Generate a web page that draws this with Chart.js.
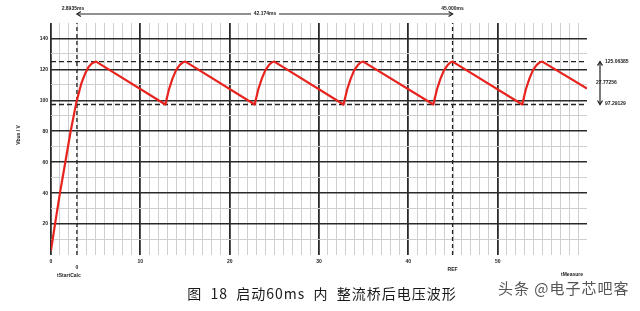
<!DOCTYPE html>
<html>
<head>
  <meta charset="utf-8">
  <script src="https://cdn.jsdelivr.net/npm/chart.js"></script>
  <style>
    html, body { margin: 0; padding: 0; background: #fff; }
    #box { width: 640px; height: 311px; position: relative; }
  </style>
</head>
<body>
  <div id="box"><canvas id="voltageChart"></canvas></div>

  <script>
    // waveform (time in ms, voltage in V)
    const timeData = [0, 0.45, 1.0, 1.6, 2.2, 2.85, 3.4, 3.8, 4.2, 4.6, 5.05,
      12.8, 13.2, 13.6, 14.0, 14.4, 14.75, 15.05,
      22.8, 23.2, 23.6, 24.0, 24.4, 24.7, 25.0,
      32.75, 33.15, 33.55, 33.95, 34.35, 34.65, 34.95,
      42.8, 43.2, 43.6, 44.0, 44.4, 44.7, 44.95,
      52.75, 53.15, 53.55, 53.95, 54.35, 54.7, 55.0,
      60];
    const voltageData = [3, 20, 40, 60, 80, 99, 111, 117, 121.5, 124, 125.06,
      97.29, 107, 114, 119.5, 122.8, 124.5, 125.06,
      97.29, 107, 114, 119.5, 122.8, 124.5, 125.06,
      97.29, 107, 114, 119.5, 122.8, 124.5, 125.06,
      97.29, 107, 114, 119.5, 122.8, 124.5, 125.06,
      97.29, 107, 114, 119.5, 122.8, 124.5, 125.06,
      107.6];

    const cursorTimes = [2.9, 44.95];
    const levelValues = [125.06, 97.29];
    const xTickLabels = ["0", "10", "20", "30", "40", "50"];
    const topLabels = ["2.8935ms", "42.174ms", "45.000ms"];
    const rightLabels = ["125.06385", "27.77256", "97.29129"];
    const caption = "图  18  启动60ms  内  整流桥后电压波形";
    const watermark = "头条 @电子芯吧客";

    const datasets = [];
    datasets.push({
      label: "Vbus",
      data: timeData.map((t, i) => ({ x: t, y: voltageData[i] })),
      borderColor: "#e8231e",
      borderWidth: 2.2,
      borderJoinStyle: "round",
      pointRadius: 0,
      tension: 0,
      fill: false,
      order: 0
    });
    levelValues.forEach(v => {
      datasets.push({
        data: [{ x: 0, y: v }, { x: 60, y: v }],
        borderColor: "#222",
        borderWidth: 1.3,
        borderDash: [5, 3],
        pointRadius: 0,
        order: 1
      });
    });
    cursorTimes.forEach(t => {
      datasets.push({
        data: [{ x: t, y: 0 }, { x: t, y: 150 }],
        borderColor: "#222",
        borderWidth: 1.3,
        borderDash: [4, 3],
        pointRadius: 0,
        order: 1
      });
    });

    const smallFont = "bold 5px 'Liberation Sans'";

    function arrowHead(ctx, x, y, dir) {
      ctx.beginPath();
      if (dir === "left") { ctx.moveTo(x + 4, y - 2.5); ctx.lineTo(x, y); ctx.lineTo(x + 4, y + 2.5); }
      if (dir === "right") { ctx.moveTo(x - 4, y - 2.5); ctx.lineTo(x, y); ctx.lineTo(x - 4, y + 2.5); }
      if (dir === "up") { ctx.moveTo(x - 2.5, y + 4); ctx.lineTo(x, y); ctx.lineTo(x + 2.5, y + 4); }
      if (dir === "down") { ctx.moveTo(x - 2.5, y - 4); ctx.lineTo(x, y); ctx.lineTo(x + 2.5, y - 4); }
      ctx.stroke();
    }

    const extras = {
      id: "extras",
      afterDraw(chart) {
        const ctx = chart.ctx;
        const xs = chart.scales.x, ys = chart.scales.y;
        ctx.save();
        ctx.strokeStyle = "#222";
        ctx.fillStyle = "#222";
        ctx.lineWidth = 1.2;
        ctx.font = smallFont;

        // top measurement arrow between cursors
        const x1 = xs.getPixelForValue(cursorTimes[0]);
        const x2 = xs.getPixelForValue(cursorTimes[1]);
        const yTop = 14;
        ctx.beginPath(); ctx.moveTo(x1, yTop); ctx.lineTo(x2, yTop); ctx.stroke();
        arrowHead(ctx, x1, yTop, "left");
        arrowHead(ctx, x2, yTop, "right");
        ctx.textBaseline = "middle";
        ctx.textAlign = "center";
        ctx.fillText(topLabels[0], x1 - 4, 9);
        const mid = 265;
        ctx.fillStyle = "#fff"; ctx.fillRect(mid - 14, yTop - 3, 28, 6);
        ctx.fillStyle = "#222"; ctx.fillText(topLabels[1], mid, yTop);
        ctx.fillText(topLabels[2], x2, 9);

        // right measurement arrow between levels
        const yA = ys.getPixelForValue(levelValues[0]);
        const yB = ys.getPixelForValue(levelValues[1]);
        const xr = 600;
        ctx.beginPath(); ctx.moveTo(xr, yA); ctx.lineTo(xr, yB); ctx.stroke();
        arrowHead(ctx, xr, yA, "up");
        arrowHead(ctx, xr, yB, "down");
        ctx.textAlign = "left";
        ctx.fillText(rightLabels[0], 605, yA);
        ctx.fillText(rightLabels[1], 596, (yA + yB) / 2);
        ctx.fillText(rightLabels[2], 605, yB - 1);

        // cursor / axis labels under the plot
        ctx.textAlign = "center";
        ctx.fillText("0", x1, 268);
        ctx.fillText("tStartCalc", x1 - 8, 276);
        ctx.fillText("REF", x2, 270);
        ctx.fillText("tMeasure", 572, 275);

        // y axis title
        ctx.save();
        ctx.translate(19, 135);
        ctx.rotate(-Math.PI / 2);
        ctx.fillText("Vbus / V", 0, 0);
        ctx.restore();

        // caption and watermark
        ctx.textBaseline = "middle";
        ctx.fillStyle = "#1a1a1a";
        ctx.font = "14px 'Noto Sans CJK SC'";
        ctx.letterSpacing = "1px";
        ctx.textAlign = "center";
        ctx.fillText(caption, 322, 294);
        ctx.fillStyle = "#555";
        ctx.font = "15px 'Noto Sans CJK SC'";
        ctx.textAlign = "left";
        ctx.fillText(watermark, 498, 288);
        ctx.restore();
      }
    };

    function drawChart() {
      const ctx = document.getElementById("voltageChart").getContext("2d");
      window.voltageChart = new Chart(ctx, {
        type: "line",
        data: { datasets: datasets },
        plugins: [extras],
        options: {
          responsive: true,
          maintainAspectRatio: false,
          animation: false,
          events: [],
          layout: { padding: { left: 0, right: 53, top: 23, bottom: 0 } },
          plugins: { legend: { display: false }, tooltip: { enabled: false } },
          scales: {
            x: {
              type: "linear",
              min: 0,
              max: 60,
              afterFit: scale => { scale.height = 56; },
              border: { display: false },
              grid: {
                drawTicks: false,
                color: c => c.tick.value === 60 ? "rgba(0,0,0,0)" : (c.tick.value % 10 === 0 ? "#2a2a2a" : "#cfcfcf"),
                lineWidth: c => c.tick.value % 10 === 0 ? 1.8 : 1
              },
              ticks: {
                stepSize: 1,
                autoSkip: false,
                maxRotation: 0,
                padding: 4,
                color: "#222",
                font: { family: "Liberation Sans", size: 5, weight: "bold" },
                callback: v => (v % 10 === 0 && v < 60) ? xTickLabels[v / 10] : ""
              }
            },
            y: {
              min: 0,
              max: 150,
              afterFit: scale => { scale.width = 51; },
              border: { display: false },
              grid: {
                drawTicks: false,
                color: c => (c.tick.value === 0 || c.tick.value === 150) ? "rgba(0,0,0,0)" : (c.tick.value % 20 === 0 ? "#2a2a2a" : "#cfcfcf"),
                lineWidth: c => c.tick.value % 20 === 0 ? 1.6 : 1
              },
              ticks: {
                stepSize: 10,
                padding: 3,
                color: "#222",
                font: { family: "Liberation Sans", size: 5, weight: "bold" },
                callback: v => (v % 20 === 0 && v > 0 && v < 150) ? String(v) : ""
              }
            }
          }
        }
      });
    }

    drawChart();
  </script>
</body>
</html>
